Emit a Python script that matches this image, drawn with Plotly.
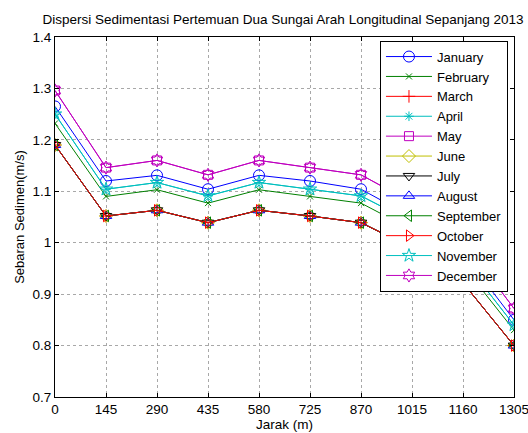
import plotly.graph_objects as go

jarak = [0, 145, 290, 435, 580, 725, 870, 1015, 1160, 1305]
months = ["January", "February", "March", "April", "May", "June", "July",
          "August", "September", "October", "November", "December"]

january = [1.265, 1.120, 1.131, 1.104, 1.131, 1.120, 1.104, 1.050, 0.980, 0.850]
february = [1.232, 1.090, 1.103, 1.077, 1.103, 1.090, 1.077, 1.025, 0.955, 0.830]
march = [1.190, 1.052, 1.063, 1.039, 1.063, 1.052, 1.039, 0.990, 0.922, 0.800]
april = [1.250, 1.104, 1.117, 1.091, 1.117, 1.104, 1.091, 1.040, 0.967, 0.840]
may = [1.296, 1.146, 1.160, 1.132, 1.160, 1.146, 1.132, 1.078, 1.005, 0.872]
june = march
july = march
august = march
september = march
october = march
november = april
december = may

series = [january, february, march, april, may, june, july, august,
          september, october, november, december]
colors = ["#0000FF", "#008000", "#FF0000", "#00BFBF", "#BF00BF", "#BFBF00",
          "#000000", "#0000FF", "#008000", "#FF0000", "#00BFBF", "#BF00BF"]
symbols = ["circle-open", "x-thin-open", "cross-thin-open", "asterisk-open",
           "square-open", "diamond-open", "triangle-down-open", "triangle-up-open",
           "triangle-left-open", "triangle-right-open", "star-open", "hexagram-open"]
sizes = [11, 6, 9, 8, 9, 10, 10, 10, 10, 10, 10, 10]

fig = go.Figure()
for name, vals, c, s, sz in zip(months, series, colors, symbols, sizes):
    fig.add_trace(go.Scatter(
        x=jarak, y=vals, name=name, mode="lines+markers",
        line=dict(color=c, width=1),
        marker=dict(symbol=s, size=sz, color=c, line=dict(color=c, width=1)),
    ))

font = "Liberation Sans, Arial, sans-serif"
fig.update_layout(
    width=528, height=433,
    margin=dict(l=55, r=14, t=37, b=36, autoexpand=False),
    paper_bgcolor="white", plot_bgcolor="white",
    font=dict(family=font, size=13.5, color="#000000"),
    title=dict(text="Dispersi Sedimentasi Pertemuan Dua Sungai Arah Longitudinal Sepanjang 2013",
               x=0.536, xanchor="center", y=0.956, yanchor="middle",
               font=dict(size=13.5, family=font)),
    showlegend=True,
    legend=dict(x=0.708, y=0.99, xanchor="left", yanchor="top",
                bgcolor="white", bordercolor="black", borderwidth=1,
                font=dict(size=13, family=font), tracegroupgap=0,
                itemwidth=46),
)
fig.update_xaxes(
    range=[0, 1305], tickvals=jarak, ticktext=[str(v) for v in jarak],
    showline=True, linecolor="black", linewidth=1, mirror="ticks",
    ticks="inside", ticklen=4, tickcolor="black",
    showgrid=True, gridcolor="#a8a8a8", griddash="dot", gridwidth=1,
    zeroline=False, automargin=False, ticklabeloverflow="allow",
    title=dict(text="Jarak (m)", standoff=2, font=dict(size=13.5)),
    tickfont=dict(size=13.5),
)
fig.update_yaxes(
    range=[0.7, 1.4], tickvals=[0.7, 0.8, 0.9, 1.0, 1.1, 1.2, 1.3, 1.4],
    ticktext=["0.7", "0.8", "0.9", "1", "1.1", "1.2", "1.3", "1.4"],
    showline=True, linecolor="black", linewidth=1, mirror="ticks",
    ticks="inside", ticklen=4, tickcolor="black",
    showgrid=True, gridcolor="#a8a8a8", griddash="dot", gridwidth=1,
    zeroline=False, automargin=False, ticklabeloverflow="allow",
    title=dict(text="Sebaran Sedimen(m/s)", standoff=4, font=dict(size=13)),
    tickfont=dict(size=13.5),
)

fig.write_html("out.html", config={"displayModeBar": False},
               post_script="document.body.style.margin='0';document.body.style.overflow='hidden';")
